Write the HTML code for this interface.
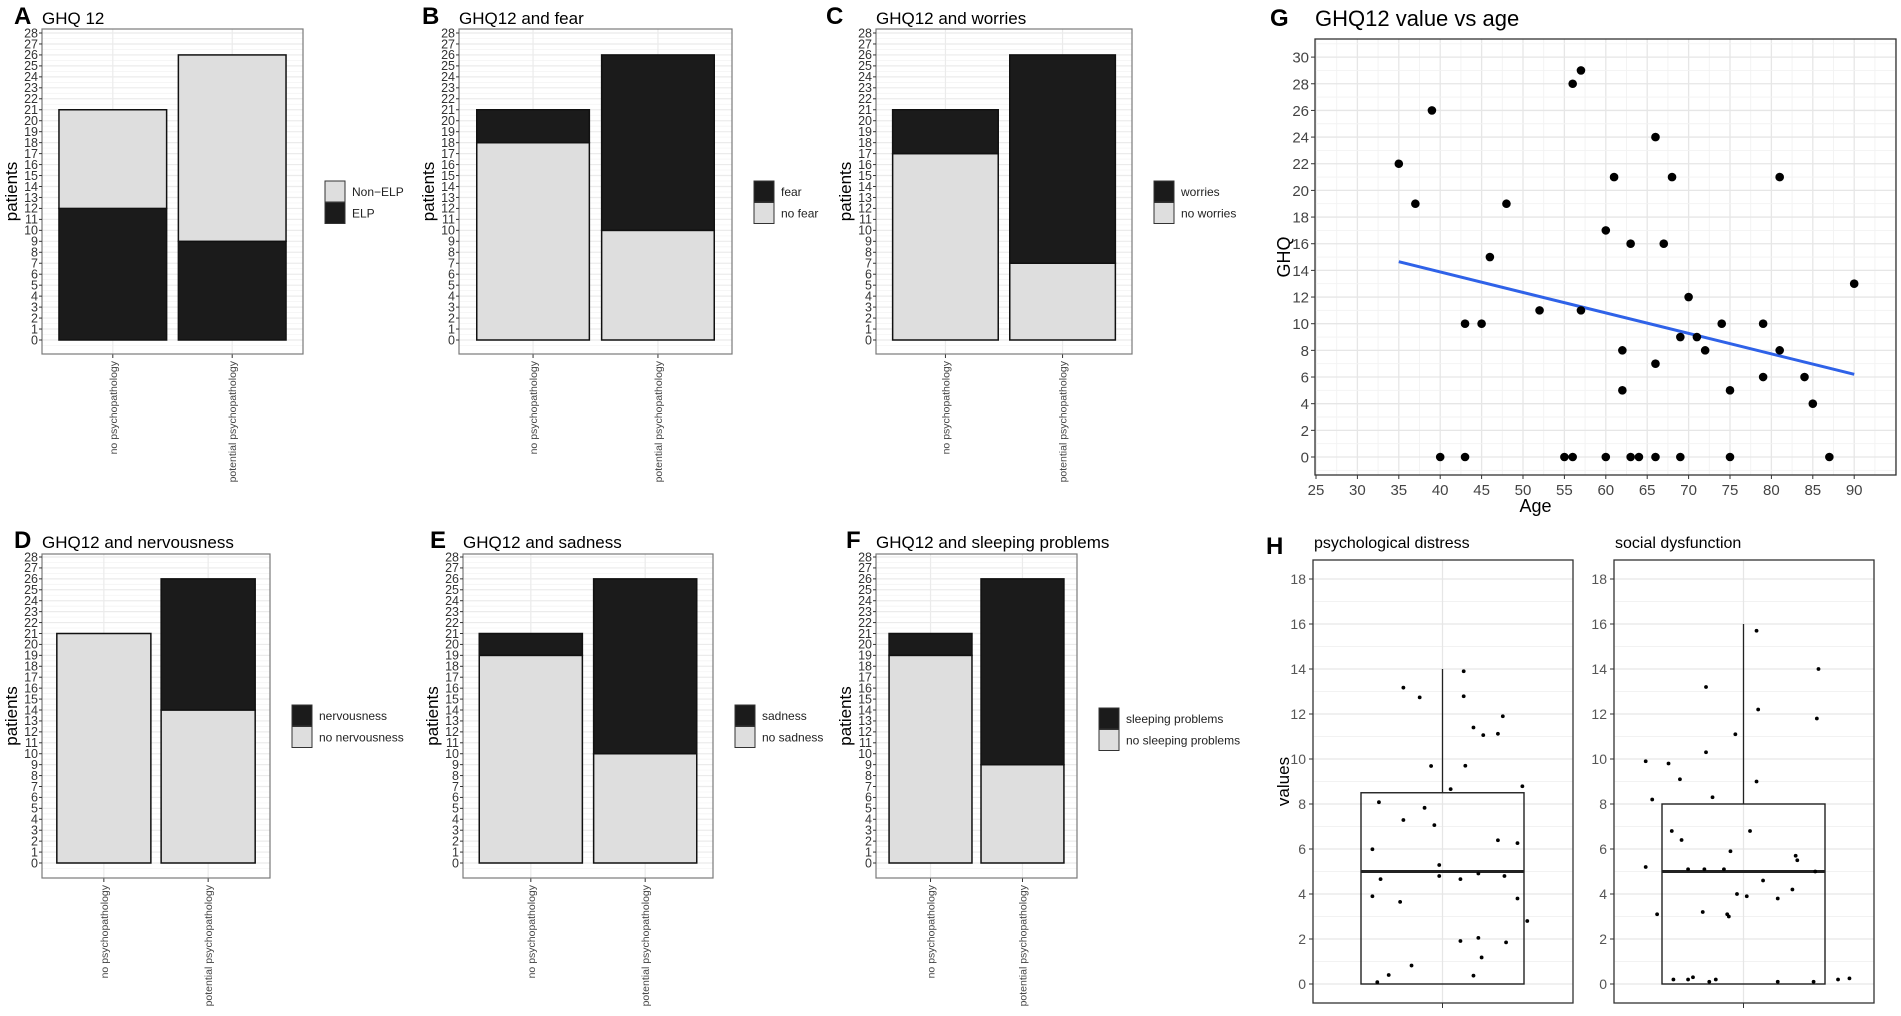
<!DOCTYPE html>
<html><head><meta charset="utf-8">
<style>
html,body{margin:0;padding:0;background:#fff;}
svg{display:block;font-family:"Liberation Sans",Arial,sans-serif;}
</style></head>
<body>
<svg id="fig" width="1901" height="1016" viewBox="0 0 1901 1016" xmlns="http://www.w3.org/2000/svg"></svg>
<script>
// ---- Stacked bar data (lower segment / total) ----
const barCategories = ["no psychopathology", "potential psychopathology"];
const totalA = [21, 26]; const lowerA = [12, 9];
const totalB = [21, 26]; const lowerB = [18, 10];
const totalC = [21, 26]; const lowerC = [17, 7];
const totalD = [21, 26]; const lowerD = [21, 14];
const totalE = [21, 26]; const lowerE = [19, 10];
const totalF = [21, 26]; const lowerF = [19, 9];
const barTicks = [0,1,2,3,4,5,6,7,8,9,10,11,12,13,14,15,16,17,18,19,20,21,22,23,24,25,26,27,28];

// ---- Scatter G data ----
const ages = [35,37,39,40,43,43,45,46,48,52,55,56,56,57,57,60,60,61,62,62,63,63,64,66,66,66,67,68,69,69,70,71,72,74,75,75,79,79,81,81,84,85,87,90];
const ghq  = [22,19,26,0,10,0,10,15,19,11,0,0,28,29,11,17,0,21,8,5,16,0,0,24,7,0,16,21,9,0,12,9,8,10,5,0,10,6,21,8,6,4,0,13];
const fitAges = [35, 90];
const fitGhq = [14.65, 6.2];
const gXTicks = [25,30,35,40,45,50,55,60,65,70,75,80,85,90];
const gYTicks = [0,2,4,6,8,10,12,14,16,18,20,22,24,26,28,30];

// ---- Boxplot H data ----
const hYTicks = [0,2,4,6,8,10,12,14,16,18];
const distressVals = [13.17,12.74,13.9,12.79,11.9,11.4,11.06,11.12,9.69,9.7,8.66,8.79,8.08,7.83,7.29,7.06,5.99,6.39,6.26,5.29,4.8,4.66,4.66,4.91,4.8,3.9,3.65,3.8,2.8,1.91,2.05,1.85,1.18,0.82,0.4,0.08,0.37];
const distressJit = [-0.24,-0.14,0.13,0.13,0.37,0.19,0.25,0.34,-0.07,0.14,0.05,0.49,-0.39,-0.11,-0.24,-0.05,-0.43,0.34,0.46,-0.02,-0.02,-0.38,0.11,0.22,0.38,-0.43,-0.26,0.46,0.52,0.11,0.22,0.39,0.24,-0.19,-0.33,-0.4,0.19];
const distressStats = [0, 0, 5, 8.5, 14]; // min, q1, median, q3, max
const socialVals = [14.0,11.8,15.7,12.2,9.0,11.1,13.2,10.3,8.3,9.9,8.2,9.8,9.1,6.8,6.4,5.1,5.1,5.1,5.9,6.8,5.7,5.5,5.0,5.2,3.1,3.2,3.1,3.0,3.9,4.0,4.6,3.8,4.2,0.2,0.3,0.1,0.2,0.1,0.1,0.2,0.25,0.2];
const socialJit = [0.46,0.45,0.08,0.09,0.08,-0.05,-0.23,-0.23,-0.19,-0.6,-0.56,-0.46,-0.39,-0.44,-0.38,-0.34,-0.24,-0.12,-0.08,0.04,0.32,0.33,0.44,-0.6,-0.53,-0.25,-0.1,-0.09,0.02,-0.04,0.12,0.21,0.3,-0.43,-0.31,-0.21,-0.17,0.21,0.43,0.58,0.65,-0.34];
const socialStats = [0, 0, 5, 8, 16];

const svg = document.getElementById('fig');
const NS = 'http://www.w3.org/2000/svg';
function mk(tag, attrs, parent, text) {
  const e = document.createElementNS(NS, tag);
  for (const k in attrs) e.setAttribute(k, attrs[k]);
  if (text !== undefined) e.textContent = text;
  (parent || svg).appendChild(e);
  return e;
}
const DARK = '#1b1b1b', LIGHT = '#dedede';

function stackedPanel(cfg) {
  const g = mk('g', {});
  
  
  const L = mk('text', {x: cfg.lx, y: cfg.ty, 'font-size': 24, 'font-weight': 'bold'}, g, cfg.letter);
   
  const T = mk('text', {x: cfg.x0, y: cfg.ty, 'font-size': 17}, g, cfg.title);
   
  const w = cfg.x1 - cfg.x0;
  const unit = (cfg.y0 - cfg.y28) / 28;
  const ys = v => cfg.y0 - v * unit;
  const bg = mk('rect', {x: cfg.x0, y: cfg.top, width: w, height: cfg.bot - cfg.top, fill: '#fff'}, g);
   
  // grid
  for (let v = -0.5; v <= 28.6; v += 0.5) {
    const yy = ys(v);
    if (yy < cfg.top || yy > cfg.bot) continue;
    mk('line', {x1: cfg.x0, x2: cfg.x1, y1: yy, y2: yy, stroke: Number.isInteger(v) ? '#ebebeb' : '#f4f4f4', 'stroke-width': Number.isInteger(v) ? 1.2 : 0.8}, g);
  }
  const pad = 0.065 * w, gap = 0.045 * w, bw = (w - 2 * pad - gap) / 2;
  const xs = i => cfg.x0 + pad + i * (bw + gap);
  barCategories.forEach((c, i) => {
    const cx = xs(i) + bw / 2;
    mk('line', {x1: cx, x2: cx, y1: cfg.top, y2: cfg.bot, stroke: '#ebebeb', 'stroke-width': 1.2}, g);
  });
  barCategories.forEach((c, i) => {
    const tot = cfg.total[i], low = cfg.lower[i];
    const lowFill = cfg.lowerDark ? DARK : LIGHT, upFill = cfg.lowerDark ? LIGHT : DARK;
    const r1 = mk('rect', {x: xs(i), y: ys(low), width: bw, height: ys(0) - ys(low), fill: lowFill, stroke: '#111', 'stroke-width': 1.5}, g);
     
    if (tot > low) {
      const r2 = mk('rect', {x: xs(i), y: ys(tot), width: bw, height: ys(low) - ys(tot), fill: upFill, stroke: '#111', 'stroke-width': 1.5}, g);
       
    }
    const cx = xs(i) + bw / 2;
    mk('line', {x1: cx, x2: cx, y1: cfg.bot, y2: cfg.bot + 4, stroke: '#333', 'stroke-width': 1}, g);
    const lab = mk('text', {x: 0, y: 0, 'font-size': 10.5, fill: '#444', 'text-anchor': 'end', transform: `translate(${cx + 4},${cfg.bot + 7}) rotate(-90)`}, g, c);
     
  });
  mk('rect', {x: cfg.x0, y: cfg.top, width: w, height: cfg.bot - cfg.top, fill: 'none', stroke: '#7a7a7a', 'stroke-width': 1.2}, g);
  barTicks.forEach(t => {
    mk('line', {x1: cfg.x0 - 3, x2: cfg.x0, y1: ys(t), y2: ys(t), stroke: '#333', 'stroke-width': 1}, g);
    const tl = mk('text', {x: cfg.x0 - 4, y: ys(t) + 4.3, 'font-size': 12.5, fill: '#333', 'text-anchor': 'end'}, g, String(t));
     
  });
  const yl = mk('text', {x: 0, y: 0, 'font-size': 17, 'text-anchor': 'middle', transform: `translate(${cfg.x0 - 25},${(cfg.top + cfg.bot) / 2}) rotate(-90)`}, g, 'patients');
   
  // legend
  const lg = mk('g', {}, g);
   
  cfg.legend.forEach((it, k) => {
    const yy = cfg.legY + k * 21.5;
    const sw = mk('rect', {x: cfg.x1 + 22, y: yy, width: 20, height: 21, fill: it[1], stroke: '#333', 'stroke-width': 1}, lg);
     
    const lt = mk('text', {x: cfg.x1 + 49, y: yy + 15, 'font-size': 12, fill: '#222'}, lg, it[0]);
     
  });
}

const top1 = {top: 29, bot: 354, y0: 340, y28: 33, ty: 24, legY: 181};
stackedPanel(Object.assign({letter: 'A', title: 'GHQ 12', lx: 14, x0: 42, x1: 303, total: totalA, lower: lowerA, lowerDark: true, legend: [['Non\u2212ELP', LIGHT], ['ELP', DARK]]}, top1));
stackedPanel(Object.assign({letter: 'B', title: 'GHQ12 and fear', lx: 422, x0: 459, x1: 732, total: totalB, lower: lowerB, lowerDark: false, legend: [['fear', DARK], ['no fear', LIGHT]]}, top1));
stackedPanel(Object.assign({letter: 'C', title: 'GHQ12 and worries', lx: 826, x0: 876, x1: 1132, total: totalC, lower: lowerC, lowerDark: false, legend: [['worries', DARK], ['no worries', LIGHT]]}, top1));
const bot1 = {top: 554, bot: 878, y0: 863, y28: 557, ty: 548, legY: 705};
stackedPanel(Object.assign({letter: 'D', title: 'GHQ12 and nervousness', lx: 14, x0: 42, x1: 270, total: totalD, lower: lowerD, lowerDark: false, legend: [['nervousness', DARK], ['no nervousness', LIGHT]]}, bot1));
stackedPanel(Object.assign({letter: 'E', title: 'GHQ12 and sadness', lx: 430, x0: 463, x1: 713, total: totalE, lower: lowerE, lowerDark: false, legend: [['sadness', DARK], ['no sadness', LIGHT]]}, bot1));
stackedPanel(Object.assign({letter: 'F', title: 'GHQ12 and sleeping problems', lx: 846, x0: 876, x1: 1077, total: totalF, lower: lowerF, lowerDark: false, legend: [['sleeping problems', DARK], ['no sleeping problems', LIGHT]]}, Object.assign({}, bot1, {legY: 708})));

// ---- Panel G scatter ----
(function () {
  const P = {x0: 1315, x1: 1896, top: 39, bot: 475};
  const xs = a => 1316 + (a - 25) * 8.28;
  const ys = v => 457 - v * 13.33;
  const g = mk('g', {});
   
  mk('text', {x: 1270, y: 26, 'font-size': 24, 'font-weight': 'bold'}, g, 'G');
  mk('text', {x: 1315, y: 26, 'font-size': 22}, g, 'GHQ12 value vs age');
  mk('rect', {x: P.x0, y: P.top, width: P.x1 - P.x0, height: P.bot - P.top, fill: '#fff'}, g);
  for (let a = 22.5; a <= 97.5; a += 2.5) {
    const xx = xs(a); if (xx < P.x0 || xx > P.x1) continue;
    const major = a % 5 === 0;
    mk('line', {x1: xx, x2: xx, y1: P.top, y2: P.bot, stroke: major ? '#e6e6e6' : '#f2f2f2', 'stroke-width': major ? 1.3 : 0.9}, g);
  }
  for (let v = -1; v <= 31; v += 1) {
    const yy = ys(v); if (yy < P.top || yy > P.bot) continue;
    const major = v % 2 === 0;
    mk('line', {x1: P.x0, x2: P.x1, y1: yy, y2: yy, stroke: major ? '#e6e6e6' : '#f2f2f2', 'stroke-width': major ? 1.3 : 0.9}, g);
  }
  const fit = mk('line', {x1: xs(fitAges[0]), y1: ys(fitGhq[0]), x2: xs(fitAges[1]), y2: ys(fitGhq[1]), stroke: '#2f62e8', 'stroke-width': 3}, g);
   
  ages.forEach((a, i) => {
    const c = mk('circle', {cx: xs(a), cy: ys(ghq[i]), r: 4.3, fill: '#000'}, g);
     
  });
  mk('rect', {x: P.x0, y: P.top, width: P.x1 - P.x0, height: P.bot - P.top, fill: 'none', stroke: '#333', 'stroke-width': 1.3}, g);
  gXTicks.forEach(t => {
    mk('line', {x1: xs(t), x2: xs(t), y1: P.bot, y2: P.bot + 4, stroke: '#333'}, g);
    const tl = mk('text', {x: xs(t), y: P.bot + 20, 'font-size': 15, fill: '#444', 'text-anchor': 'middle'}, g, String(t));
     
  });
  gYTicks.forEach(t => {
    mk('line', {x1: P.x0 - 4, x2: P.x0, y1: ys(t), y2: ys(t), stroke: '#333'}, g);
    const tl = mk('text', {x: P.x0 - 6, y: ys(t) + 5.5, 'font-size': 15, fill: '#444', 'text-anchor': 'end'}, g, String(t));
     
  });
  const xt = mk('text', {x: (P.x0 + P.x1) / 2 - 70, y: 512, 'font-size': 18, 'text-anchor': 'middle'}, g, 'Age');
   
  const yt = mk('text', {x: 0, y: 0, 'font-size': 18, 'text-anchor': 'middle', transform: `translate(${1290},${ys(15)}) rotate(-90)`}, g, 'GHQ');
   
})();

// ---- Panel H boxplots ----
(function () {
  const top = 560, bot = 1003;
  const ys = v => 984 - v * 22.5;
  const g = mk('g', {});
   
  mk('text', {x: 1266, y: 554, 'font-size': 24, 'font-weight': 'bold'}, g, 'H');
  const yt = mk('text', {x: 0, y: 0, 'font-size': 17, 'text-anchor': 'middle', transform: `translate(1289,${ys(9)}) rotate(-90)`}, g, 'values');
   
  const facets = [
    {name: 'psychological distress', x0: 1313, x1: 1573, vals: distressVals, jit: distressJit, st: distressStats},
    {name: 'social dysfunction', x0: 1614, x1: 1874, vals: socialVals, jit: socialJit, st: socialStats}
  ];
  facets.forEach(f => {
    const fg = mk('g', {}, g);
    
    
    const st = mk('text', {x: f.x0 + 1, y: 548, 'font-size': 16}, fg, f.name);
     
    mk('rect', {x: f.x0, y: top, width: f.x1 - f.x0, height: bot - top, fill: '#fff'}, fg);
    for (let v = -1; v <= 19; v += 1) {
      const yy = ys(v); if (yy < top || yy > bot) continue;
      const major = v % 2 === 0;
      mk('line', {x1: f.x0, x2: f.x1, y1: yy, y2: yy, stroke: major ? '#e6e6e6' : '#f2f2f2', 'stroke-width': major ? 1.3 : 0.9}, fg);
    }
    const cx = (f.x0 + f.x1) / 2 - 0.5;
    const bw = 163;
    mk('line', {x1: cx, x2: cx, y1: top, y2: bot, stroke: '#e6e6e6', 'stroke-width': 1.3}, fg);
    const wh = mk('line', {x1: cx, x2: cx, y1: ys(f.st[3]), y2: ys(f.st[4]), stroke: '#222', 'stroke-width': 1.3}, fg);
     
    const bx = mk('rect', {x: cx - bw / 2, y: ys(f.st[3]), width: bw, height: ys(f.st[1]) - ys(f.st[3]), fill: 'none', stroke: '#222', 'stroke-width': 1.4}, fg);
     
    const md = mk('line', {x1: cx - bw / 2, x2: cx + bw / 2, y1: ys(f.st[2]), y2: ys(f.st[2]), stroke: '#222', 'stroke-width': 3}, fg);
     
    f.vals.forEach((v, i) => {
      const c = mk('circle', {cx: cx + f.jit[i] * bw, cy: ys(v), r: 1.9, fill: '#000'}, fg);
       
    });
    mk('rect', {x: f.x0, y: top, width: f.x1 - f.x0, height: bot - top, fill: 'none', stroke: '#333', 'stroke-width': 1.3}, fg);
    mk('line', {x1: cx, x2: cx, y1: bot, y2: bot + 5, stroke: '#333'}, fg);
    hYTicks.forEach(t => {
      mk('line', {x1: f.x0 - 4, x2: f.x0, y1: ys(t), y2: ys(t), stroke: '#333'}, fg);
      const tl = mk('text', {x: f.x0 - 7, y: ys(t) + 5, 'font-size': 14, fill: '#555', 'text-anchor': 'end'}, fg, String(t));
       
    });
  });
})();
</script>
</body></html>
